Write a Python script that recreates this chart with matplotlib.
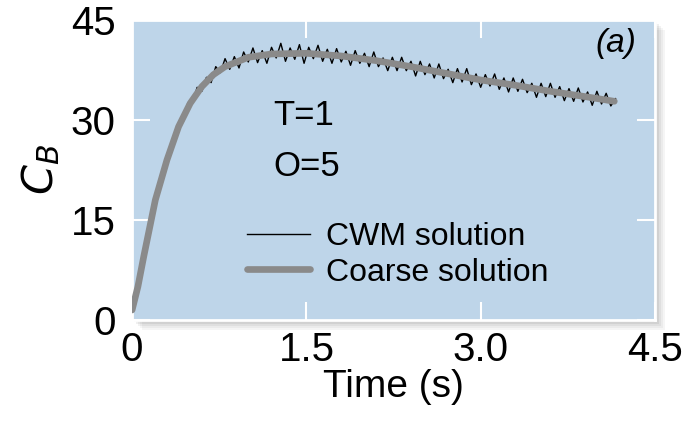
import matplotlib.pyplot as plt
from matplotlib.patches import Rectangle
import numpy as np

plt.rcParams['font.family'] = ['Liberation Sans', 'DejaVu Sans']

# coarse solution (smooth)
t_coarse = [0.0, 0.05, 0.1, 0.2, 0.3, 0.4, 0.5, 0.6, 0.7, 0.8, 1.0, 1.2, 1.5,
            1.8, 2.1, 2.4, 2.7, 3.0, 3.3, 3.6, 3.9, 4.15]
cb_coarse = [1.5, 5.0, 9.5, 18.0, 24.0, 29.0, 32.5, 35.0, 36.8, 38.0, 39.4, 39.9, 40.0,
             39.6, 38.9, 38.0, 37.0, 36.0, 35.2, 34.3, 33.5, 32.8]

# CWM solution (noisy), sampled every 0.04 s
t_cwm = np.linspace(0, 4.16, 105)
cb_cwm = [1.5, 4.2, 8.1, 10.8, 15.0, 17.4, 20.9, 22.7, 25.7, 26.5,
          29.3, 29.7, 32.6, 32.6, 34.9, 34.3, 36.4, 35.6, 38.0, 37.1,
          39.2, 37.6, 39.5, 37.8, 40.2, 38.7, 40.8, 38.6, 40.4, 38.5,
          40.9, 39.3, 41.5, 38.8, 40.8, 39.1, 41.3, 38.5, 40.9, 39.2,
          41.2, 38.8, 40.6, 38.5, 40.7, 38.7, 40.3, 38.2, 40.4, 38.5,
          40.0, 38.0, 40.2, 38.0, 39.3, 37.4, 39.4, 37.4, 39.4, 37.4,
          38.8, 36.6, 38.8, 36.8, 38.4, 36.3, 38.4, 36.2, 37.6, 35.6,
          37.7, 35.7, 37.7, 35.3, 36.9, 34.9, 36.8, 35.1, 36.9, 34.6,
          36.3, 34.2, 36.3, 34.3, 36.1, 34.1, 35.5, 33.4, 35.5, 33.5,
          35.5, 33.4, 35.0, 32.9, 34.7, 32.8, 34.8, 32.7, 34.2, 32.2,
          34.3, 32.4, 34.0, 32.1, 33.2]

x_ticks = [0, 1.5, 3.0, 4.5]
x_labels = ['0', '1.5', '3.0', '4.5']
y_ticks = [0, 15, 30, 45]

fig = plt.figure(figsize=(6.88, 4.22), dpi=100)
rect = [0.192, 0.2417, 0.760, 0.711]

# soft drop shadow behind the panel
for i, a in enumerate([0.04, 0.04, 0.05, 0.06, 0.07]):
    off = (5 - i) * 2.0
    fig.patches.append(Rectangle((rect[0] + off / 688, rect[1] - off / 422), rect[2], rect[3],
                                 transform=fig.transFigure, facecolor='black', alpha=a,
                                 edgecolor='none', zorder=-5))

ax = fig.add_axes(rect)
ax.set_zorder(2)
ax.set_facecolor('#bed5e9')

ax.plot(t_cwm, cb_cwm, color='black', lw=1.0, label='CWM solution', zorder=2)
ax.plot(t_coarse, cb_coarse, color='#8a8a8a', lw=4.8, label='Coarse solution',
        solid_capstyle='round', zorder=3)

ax.set_xlim(0, 4.5)
ax.set_ylim(0, 45)
ax.set_xticks(x_ticks)
ax.set_xticklabels(x_labels)
ax.set_yticks(y_ticks)
ax.tick_params(direction='in', length=13, width=1.5, color='white',
               labelsize=29, top=True, right=True, pad=8)
ax.tick_params(axis='y', pad=12)
for s in ax.spines.values():
    s.set_color('white')
    s.set_linewidth(2)

ax.set_xlabel('Time (s)', fontsize=28, labelpad=0)
ax.set_ylabel('$C_B$', fontsize=31, labelpad=6)

ax.text(0.27, 0.68, 'T=1', transform=ax.transAxes, fontsize=25, va='center')
ax.text(0.27, 0.51, 'O=5', transform=ax.transAxes, fontsize=25, va='center')
ax.text(0.965, 0.92, '(a)', transform=ax.transAxes, fontsize=24, style='italic',
        ha='right', va='center')

ax.legend(loc='lower left', bbox_to_anchor=(0.19, 0.055), frameon=False, fontsize=23,
          handlelength=1.95, handletextpad=0.5, labelspacing=0.17, borderpad=0)

fig.savefig('out.png', dpi=100)
